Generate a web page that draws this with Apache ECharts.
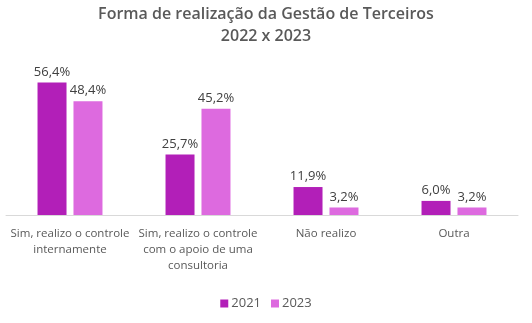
<!DOCTYPE html>
<html><head><meta charset="utf-8">
<script src="https://cdn.jsdelivr.net/npm/echarts@6/dist/echarts.min.js"></script>
<style>html,body{margin:0;padding:0;background:#fff}#c{width:532px;height:323px}</style>
</head><body><div id="c"></div>
<script>
const categories = ["Sim, realizo o controle\ninternamente", "Sim, realizo o controle\ncom o apoio de uma\nconsultoria", "Não realizo", "Outra"];
const seriesNames = ["2021", "2023"];
const values2021 = [56.4, 25.7, 11.9, 6.0];
const values2023 = [48.4, 45.2, 3.2, 3.2];
const colors = ["#B21FB8", "#DD6ADF"];
const FONT = "Open Sans";
const chart = echarts.init(document.getElementById('c'), null, {renderer: 'canvas'});
const fmt = p => p.value.toFixed(1).replace('.', ',') + '%';
chart.setOption({
  animation: false,
  textStyle: {fontFamily: FONT},
  title: {
    text: "Forma de realização da Gestão de Terceiros\n2022 x 2023",
    left: 'center', top: -2,
    textStyle: {fontFamily: FONT, fontSize: 16, fontWeight: 600, color: '#595959', lineHeight: 22}
  },
  legend: {
    bottom: 8, left: 'center', itemWidth: 8, itemHeight: 8, itemGap: 10, icon: 'rect',
    textStyle: {fontFamily: FONT, fontSize: 13, color: '#595959', padding: [0,0,0,-2]},
    data: seriesNames
  },
  grid: {left: 6, right: 14, top: 74, bottom: 108},
  xAxis: {
    type: 'category', data: categories,
    axisLine: {lineStyle: {color: '#D9D9D9'}}, axisTick: {show: false},
    axisLabel: {interval: 0, fontFamily: FONT, fontSize: 11.5, color: '#595959', lineHeight: 16, margin: 11}
  },
  yAxis: {type: 'value', min: 0, max: 60, show: false, splitLine: {show: false}},
  series: [
    {name: seriesNames[0], type: 'bar', data: values2021, barWidth: 29, barGap: '24%', itemStyle: {color: colors[0]},
     label: {show: true, position: 'top', distance: 4, formatter: fmt, fontFamily: FONT, fontSize: 13, color: '#404040'}},
    {name: seriesNames[1], type: 'bar', data: values2023, barWidth: 29, itemStyle: {color: colors[1]},
     label: {show: true, position: 'top', distance: 4, formatter: fmt, fontFamily: FONT, fontSize: 13, color: '#404040'}}
  ]
});
</script></body></html>
